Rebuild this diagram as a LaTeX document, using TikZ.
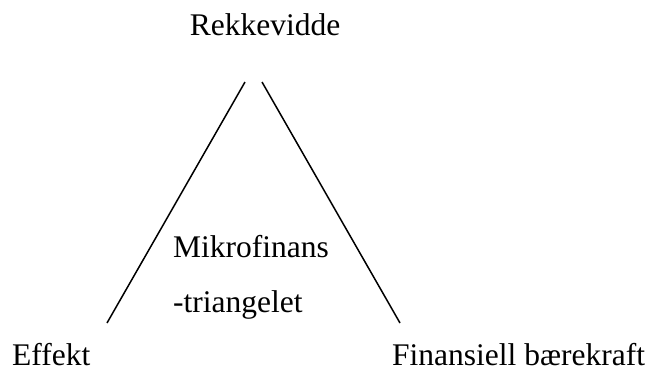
\documentclass[tikz,border=0pt]{standalone}
\usepackage{fontspec}
\setmainfont{Liberation Serif}
\usepackage{tikz}
\usetikzlibrary{positioning}
\tikzset{
    corner/.style={font=\fontsize{31.5}{37}\selectfont, inner sep=0pt, anchor=base west},
    title/.style={font=\fontsize{31.5}{37}\selectfont, inner sep=0pt, anchor=base},
    side/.style={line width=1.5pt}
}
\begin{document}
\begin{tikzpicture}[x=1pt, y=1pt]
    \useasboundingbox (0,0) rectangle (649,-383);

    % Corner labels
    \node[title] (reach) at (265,-35) {Rekkevidde};
    \node[corner] (impact) at (12,-365) {Effekt};
    \node[corner] (sustain) at (392,-365) {Finansiell bærekraft};

    % Centre label
    \node[corner] (name) at (173,-257) {Mikrofinans};
    \node[corner] (name2) at (173,-312) {-triangelet};

    % Line ends
    \coordinate (lefttop) at (245,-82);
    \coordinate (leftbottom) at (107,-323);
    \coordinate (righttop) at (262,-82);
    \coordinate (rightbottom) at (400,-323);

    % Sides
    \draw[side] (lefttop) -- (leftbottom);
    \draw[side] (righttop) -- (rightbottom);
\end{tikzpicture}
\end{document}
